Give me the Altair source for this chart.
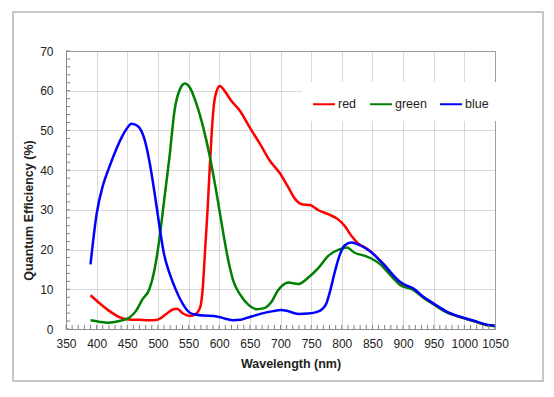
import altair as alt
import pandas as pd

series_names = ["red", "green", "blue"]
series_colors = ["#ff0000", "#008000", "#0000ff"]

red_x = [390, 404, 421, 437, 453, 470, 486, 499, 513, 524, 531, 541, 552, 561, 569, 573, 577, 581, 585, 588, 591, 596, 601, 609, 620, 634, 650, 667, 683, 699, 713, 724, 735, 748, 762, 778, 794, 805, 816, 827, 838, 849, 860, 870, 879, 895, 917, 933, 949, 971, 993, 1015, 1036, 1050]
red_y = [8.5, 6.6, 4.5, 3.0, 2.4, 2.3, 2.2, 2.35, 3.7, 4.9, 5.1, 3.9, 3.3, 3.7, 5.5, 10, 20, 30, 42, 50, 56, 60, 61.2, 59.9, 57.4, 54.9, 50.7, 46.5, 42.3, 39.2, 35.6, 32.7, 31.4, 31.2, 29.9, 28.9, 27.6, 25.9, 23.4, 21.5, 20.5, 19.3, 17.6, 16.0, 14.2, 11.6, 10.0, 8.0, 6.4, 4.3, 3.0, 2.0, 1.0, 0.75]

green_x = [390, 404, 418, 437, 453, 464, 475, 486, 494, 502, 510, 519, 527, 536, 544, 552, 563, 574, 585, 596, 607, 615, 623, 634, 647, 661, 672, 686, 695, 702, 713, 729, 745, 762, 778, 797, 808, 821, 838, 851, 862, 879, 895, 917, 933, 949, 971, 993, 1015, 1036, 1050]
green_y = [2.2, 1.85, 1.6, 2.0, 2.85, 4.5, 7.5, 10, 14.6, 22.2, 32.2, 43.5, 54.9, 60.4, 61.8, 60.8, 56.6, 50.7, 43.2, 33.9, 23.8, 17.1, 12.1, 8.7, 6.2, 5.0, 5.2, 7.0, 9.5, 10.8, 11.7, 11.3, 12.9, 15.4, 18.4, 20.1, 20.5, 19.2, 18.4, 17.5, 16.4, 13.6, 11.1, 9.8, 7.9, 6.3, 4.2, 3.0, 2.0, 1.0, 0.7]

blue_x = [390, 400, 410, 420, 430, 440, 448, 457, 467, 478, 486, 494, 502, 510, 519, 530, 541, 552, 563, 575, 590, 600, 610, 623, 635, 645, 656, 672, 688, 700, 710, 720, 730, 745, 760, 768, 775, 781, 789, 797, 805, 816, 832, 846, 860, 870, 879, 895, 905, 917, 933, 949, 971, 993, 1015, 1036, 1050]
blue_y = [16.3, 29, 36, 40.5, 44.5, 48, 50.2, 51.7, 51.1, 47.8, 42.3, 34.8, 26.4, 18.8, 14.0, 9.6, 6.2, 4.1, 3.6, 3.4, 3.3, 3.0, 2.6, 2.2, 2.3, 2.8, 3.3, 4.0, 4.5, 4.8, 4.6, 4.1, 3.8, 3.9, 4.3, 5.0, 6.5, 9.6, 14.6, 18.8, 21.1, 21.8, 20.9, 19.6, 17.6, 16.0, 14.4, 11.9, 11.0, 10.2, 8.1, 6.5, 4.4, 3.1, 2.1, 1.1, 0.8]

x_ticks = list(range(350, 1051, 50))
y_ticks = list(range(0, 71, 10))
x_minor = list(range(350, 1051, 10))
y_minor = list(range(0, 71, 2))

rows = []
for name, xs, ys in (("red", red_x, red_y), ("green", green_x, green_y), ("blue", blue_x, blue_y)):
    for i, (a, b) in enumerate(zip(xs, ys)):
        rows.append({"series": name, "wl": a, "qe": b, "idx": i})
df = pd.DataFrame(rows)

FONT = "Liberation Sans"
xscale = alt.Scale(domain=[350, 1050], nice=False, zero=False)
yscale = alt.Scale(domain=[0, 70], nice=False)

x_axis = alt.Axis(values=x_ticks, format="d", title="Wavelength (nm)", labelFlush=False, labelOverlap=False,
                  labelPadding=9, titleX=224.5, titleY=28, titleBaseline="top", titleAlign="center")
y_axis = alt.Axis(values=y_ticks, format="d", title="Quantum Efficiency (%)", labelFlush=False, labelOverlap=False,
                  labelPadding=13, titleX=-38, titleY=159, titleBaseline="middle", titleAlign="center")

frame = alt.Chart(pd.DataFrame({"k": [0]})).mark_rect(
    fillOpacity=0, stroke="#b4b4b4", strokeWidth=1.5
).encode(
    x=alt.value(-53), x2=alt.value(477), y=alt.value(-39), y2=alt.value(330)
)

lines = alt.Chart(df).mark_line(strokeWidth=2.5, interpolate="monotone").encode(
    x=alt.X("wl:Q", scale=xscale, axis=x_axis),
    y=alt.Y("qe:Q", scale=yscale, axis=y_axis),
    color=alt.Color("series:N", sort=series_names,
                    scale=alt.Scale(domain=series_names, range=series_colors),
                    legend=alt.Legend(title=None, orient="none", legendX=236, legendY=31,
                                      direction="horizontal", fillColor="white", padding=10,
                                      symbolType="stroke", symbolSize=484, symbolStrokeWidth=2,
                                      labelFontSize=12.5, labelFont=FONT, labelColor="#222",
                                      columnPadding=9, labelOffset=2)),
    order=alt.Order("idx:Q"),
)

xminor = alt.Chart(pd.DataFrame({"wl": x_minor})).mark_rule(color="#808080", strokeWidth=1).encode(
    x=alt.X("wl:Q", scale=xscale, axis=x_axis), y=alt.value(278), y2=alt.value(274)
)
yminor = alt.Chart(pd.DataFrame({"qe": y_minor})).mark_rule(color="#808080", strokeWidth=1).encode(
    y=alt.Y("qe:Q", scale=yscale, axis=y_axis), x=alt.value(0), x2=alt.value(4)
)

chart = alt.layer(frame, lines, xminor, yminor).properties(
    width=429, height=278,
    autosize=alt.AutoSizeParams(type="none"),
    padding={"left": 58, "top": 43, "right": 51, "bottom": 60},
    background="white",
).configure_view(
    stroke="#8c8c8c", strokeWidth=1
).configure_axis(
    labelFont=FONT, labelFontSize=12, labelColor="#222",
    titleFont=FONT, titleFontSize=12.5, titleFontWeight="bold", titleColor="#222",
    ticks=False, domainColor="#8c8c8c", domainWidth=1,
    gridColor="#b0b0b0", gridDash=[1, 1], gridWidth=1,
)

chart.save("out.html", embed_options={"renderer": "svg", "actions": False})
